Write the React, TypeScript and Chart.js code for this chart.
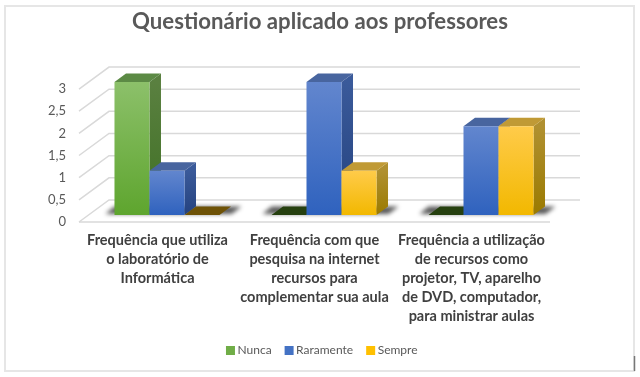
import React, { useEffect, useRef } from "react";
import { Chart, registerables } from "chart.js";

Chart.register(...registerables);

const categories = [
  ["Frequência que utiliza", "o laboratório de", "Informática"],
  ["Frequência com que", "pesquisa na internet", "recursos para", "complementar sua aula"],
  ["Frequência a utilização", "de recursos como", "projetor, TV, aparelho", "de DVD, computador,", "para ministrar aulas"],
];
const nunca = [3, 0, 0];
const raramente = [1, 3, 2];
const sempre = [0, 1, 2];
const titleText = "Questionário aplicado aos professores";

type Face = { solid: string; top: string; bottom: string; lid: string; sideTop: string; sideBottom: string; flat: string };
const faces: Record<string, Face> = {
  Nunca: { solid: "#70AD47", top: "#8CC06A", bottom: "#5EA52E", lid: "#5C8A45", sideTop: "#5A8040", sideBottom: "#3F7024", flat: "#26400F" },
  Raramente: { solid: "#4472C4", top: "#6286CE", bottom: "#2F62BE", lid: "#48659F", sideTop: "#3A5A9A", sideBottom: "#24427F", flat: "#24427F" },
  Sempre: { solid: "#FFC000", top: "#FFCB4A", bottom: "#F2B800", lid: "#C09A35", sideTop: "#B09030", sideBottom: "#9A7A00", flat: "#6E5206" },
};

const BAR_SHIFT = { x: 9.5, y: -7 };
const BAR_DEPTH = { x: 11.5, y: -8.5 };
const WALL = { x: 30, y: -22 };
const LEGEND_NUDGE = 3.5;

const scene = {
  id: "scene",
  afterLayout(chart: any) {
    if (chart.legend) {
      chart.legend.left += LEGEND_NUDGE;
      chart.legend.right += LEGEND_NUDGE;
    }
  },
  beforeDatasetsDraw(chart: any) {
    const { ctx, chartArea: a, scales } = chart;
    const yS = scales.y;
    const metas = chart.data.datasets.map((_: any, i: number) => chart.getDatasetMeta(i));

    ctx.save();
    ctx.strokeStyle = "#D9D9D9";
    ctx.lineWidth = 1.5;
    yS.ticks.forEach((t: any) => {
      const y = yS.getPixelForValue(t.value);
      ctx.beginPath();
      ctx.moveTo(a.left, y);
      ctx.lineTo(a.left + WALL.x, y + WALL.y);
      ctx.lineTo(a.right + WALL.x, y + WALL.y);
      ctx.stroke();
    });
    ctx.beginPath();
    ctx.moveTo(a.left, a.bottom);
    ctx.lineTo(a.right, a.bottom);
    ctx.stroke();
    ctx.restore();

    ctx.save();
    ctx.translate(BAR_SHIFT.x, BAR_SHIFT.y);

    // soft shadow on the floor under each group
    categories.forEach((_, c) => {
      const els = metas.map((m: any) => m.data[c]);
      const first = els[0];
      const last = els[els.length - 1];
      const x0 = first.x - first.width / 2 - 12;
      const x1 = last.x + last.width / 2 + 22;
      const b = yS.getPixelForValue(0);
      ctx.save();
      ctx.filter = "blur(2px)";
      ctx.fillStyle = "rgba(0,0,0,0.65)";
      ctx.beginPath();
      ctx.moveTo(x0 + 3, b - 1);
      ctx.lineTo(x1 - 10, b - 1);
      ctx.lineTo(x1, b + BAR_DEPTH.y);
      ctx.lineTo(x0 + 12, b + BAR_DEPTH.y);
      ctx.closePath();
      ctx.fill();
      ctx.restore();
    });

    metas.forEach((meta: any, i: number) => {
      const f = faces[chart.data.datasets[i].label];
      meta.data.forEach((el: any) => {
        const l = el.x - el.width / 2;
        const r = el.x + el.width / 2;
        const t = el.y;
        const b = el.base;
        const dx = BAR_DEPTH.x;
        const dy = BAR_DEPTH.y;
        const flat = Math.abs(b - t) < 0.5;
        if (!flat) {
          const g = ctx.createLinearGradient(0, t, 0, b);
          g.addColorStop(0, f.sideTop);
          g.addColorStop(1, f.sideBottom);
          ctx.fillStyle = g;
          ctx.beginPath();
          ctx.moveTo(r, t);
          ctx.lineTo(r + dx, t + dy);
          ctx.lineTo(r + dx, b + dy);
          ctx.lineTo(r, b);
          ctx.closePath();
          ctx.fill();
        }
        ctx.fillStyle = flat ? f.flat : f.lid;
        ctx.beginPath();
        ctx.moveTo(l, t);
        ctx.lineTo(l + dx, t + dy);
        ctx.lineTo(r + dx, t + dy);
        ctx.lineTo(r, t);
        ctx.closePath();
        ctx.fill();
        if (!flat) el.draw(ctx);
      });
    });
    ctx.restore();
    return false;
  },
  afterDraw(chart: any) {
    const { ctx } = chart;
    ctx.save();
    ctx.strokeStyle = "#E6E6E6";
    ctx.lineWidth = 2;
    ctx.strokeRect(5, 6, 629, 365);
    ctx.strokeStyle = "#777777";
    ctx.lineWidth = 1.5;
    ctx.beginPath();
    ctx.moveTo(634.5, 356);
    ctx.lineTo(634.5, 371);
    ctx.stroke();
    ctx.restore();
  },
};

const barFill = (label: string) => (c: any) => {
  const f = faces[label];
  if (c.type !== "data") return f.solid;
  const yS = c.chart.scales.y;
  const y0 = yS.getPixelForValue(c.raw);
  const y1 = yS.getPixelForValue(0);
  if (!Number.isFinite(y0) || !Number.isFinite(y1)) return f.solid;
  const g = c.chart.ctx.createLinearGradient(0, y0, 0, y1);
  g.addColorStop(0, f.top);
  g.addColorStop(1, f.bottom);
  return g;
};

export default function App() {
  const ref = useRef<HTMLCanvasElement>(null);
  useEffect(() => {
    const series: [string, number[]][] = [["Nunca", nunca], ["Raramente", raramente], ["Sempre", sempre]];
    const chart = new Chart(ref.current!, {
      type: "bar",
      plugins: [scene],
      data: {
        labels: categories,
        datasets: series.map(([label, data]) => ({
          label,
          data,
          backgroundColor: barFill(label),
          borderWidth: 0,
          categoryPercentage: 0.669,
          barPercentage: 1,
        })),
      },
      options: {
        animation: false,
        responsive: false,
        locale: "pt-BR",
        layout: { padding: { left: 0, right: 0, top: 0, bottom: 10.5 } },
        plugins: {
          tooltip: { enabled: false },
          title: {
            display: true,
            text: titleText,
            color: "#595959",
            font: { family: "Lato", size: 22.2, weight: "bold" },
            padding: { top: 9, bottom: 53.4 },
          },
          legend: {
            position: "bottom",
            labels: {
              usePointStyle: true,
              pointStyle: "rect",
              boxWidth: 2,
              boxHeight: 9,
              padding: 16.5,
              color: "#595959",
              font: { family: "Lato", size: 12 },
              generateLabels: (chart: any) =>
                Chart.defaults.plugins.legend.labels.generateLabels(chart).map((item: any) => ({
                  ...item,
                  fillStyle: faces[item.text].solid,
                  strokeStyle: faces[item.text].solid,
                  lineWidth: 0,
                })),
            },
          },
        },
        scales: {
          x: {
            grid: { display: false, drawTicks: false },
            border: { display: false },
            ticks: {
              autoSkip: false,
              maxRotation: 0,
              minRotation: 0,
              padding: 9,
              color: "#404040",
              font: { family: "Lato", size: 14.5, weight: "bold", lineHeight: 1.31 },
            },
            afterFit: (s: any) => { s.height = 106; },
          },
          y: {
            min: 0,
            max: 3,
            grid: { display: false, drawTicks: false },
            border: { display: false },
            ticks: {
              stepSize: 0.5,
              padding: 13,
              color: "#595959",
              font: { family: "Lato", size: 13 },
              callback: (v: any) => String(v).replace(".", ","),
            },
            afterFit: (s: any) => { s.width = 79; },
          },
          gutter: {
            position: "right",
            min: 0,
            max: 1,
            grid: { display: false, drawTicks: false },
            border: { display: false },
            ticks: { display: false },
            afterFit: (s: any) => { s.width = 90; },
          },
        },
      } as any,
    });
    return () => chart.destroy();
  }, []);
  return (
    <div style={{ position: "absolute", left: 0, top: 0, width: 640, height: 377, background: "#fff" }}>
      <canvas ref={ref} width={640} height={377} style={{ display: "block" }} />
    </div>
  );
}
